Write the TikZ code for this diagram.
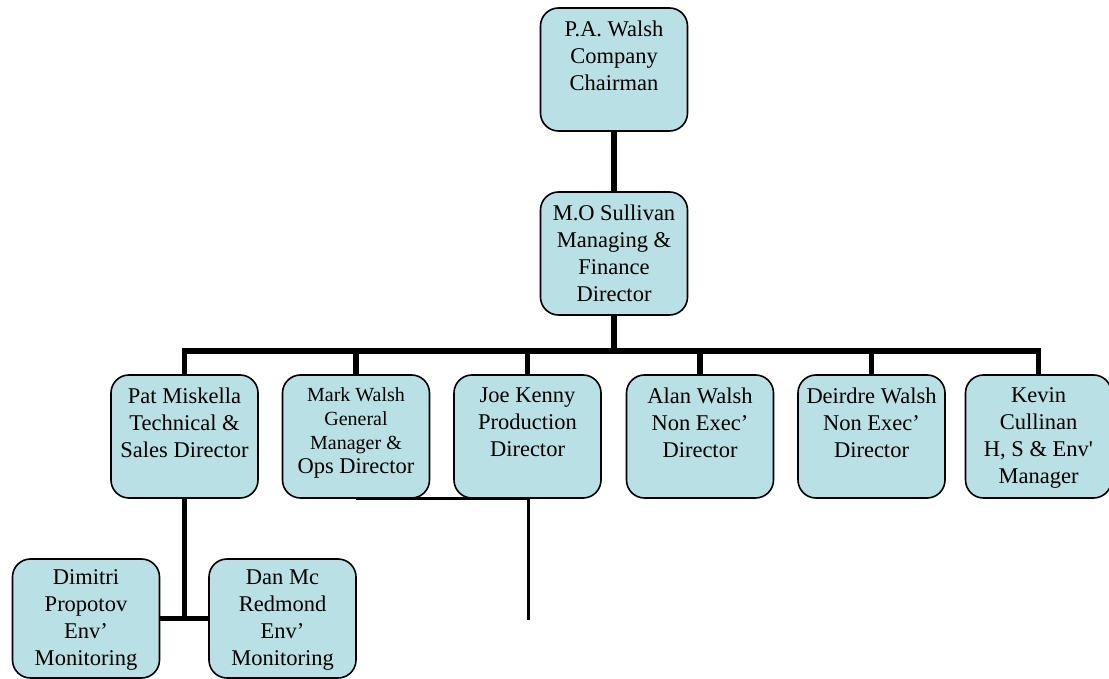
\documentclass[tikz,border=0pt]{standalone}
\usepackage{fontspec}
\setmainfont{Liberation Serif}
\usetikzlibrary{positioning}
\definecolor{boxfill}{RGB}{185,224,228}
\newcommand{\btext}[1]{\parbox[c][97pt][t]{146pt}{\centering #1}}
\tikzset{
  box/.style={rectangle,rounded corners=18pt,draw=black,line width=1.6pt,fill=boxfill,
              minimum width=147pt,minimum height=123pt,inner sep=0pt,
              font=\fontsize{22.5}{27}\selectfont},
  smallbox/.style={box,font=\fontsize{20}{24}\selectfont},
  link/.style={line width=5.5pt},
  thinlink/.style={line width=3pt},
}
\begin{document}
\begin{tikzpicture}[x=1pt,y=-1pt]
  \useasboundingbox (0,0) rectangle (1109,679);
  % top of the chart
  \node[box] (pa) at (614,69.5)  {\btext{P.A. Walsh\\Company\\Chairman}};
  \node[box] (mo) at (614,253.5) {\btext{M.O Sullivan\\Managing \&\\Finance\\Director}};
  % directors row
  \node[box]      (pm) at (184.5,436.5) {\btext{Pat Miskella\\Technical \&\\Sales Director}};
  \node[smallbox] (mw) at (356,436.5)
     {\btext{Mark Walsh\\General\\Manager \&\\{\fontsize{22.5}{24}\selectfont Ops Director}}};
  \node[box]      (jk) at (527.5,436.5) {\btext{Joe Kenny\\Production\\Director}};
  \node[box]      (aw) at (700,436.5)   {\btext{Alan Walsh\\Non Exec’\\Director}};
  \node[box]      (dw) at (871.5,436.5) {\btext{Deirdre Walsh\\Non Exec’\\Director}};
  \node[box,minimum width=139pt] (kc) at (1038.5,436.5)
     {\btext{Kevin\\Cullinan\\H, S \& Env\textquotesingle\\Manager}};
  % monitoring
  \node[box,minimum height=119pt] (dp) at (86,618.5)    {\btext{Dimitri\\Propotov\\Env’\\Monitoring}};
  \node[box,minimum height=119pt] (dm) at (282.5,618.5) {\btext{Dan Mc\\Redmond\\Env’\\Monitoring}};
  % connectors
  \coordinate (bus) at (614,351);
  \draw[link] (pa) -- (mo);
  \draw[link] (mo) -- (bus);
  \draw[link] (pm.north) -- (pm.north |- bus) -- (kc.north |- bus) -- (kc.north);
  \foreach \n in {mw,jk,aw,dw}
    \draw[link] (\n.north) -- (\n.north |- bus);
  \draw[link] (pm.south) -- (pm.south |- dp.east);
  \draw[link] (dp.east) -- (dm.west);
  \coordinate (jkend) at (528,620);
  \draw[thinlink] (mw.south) -| (jkend);
\end{tikzpicture}
\end{document}
